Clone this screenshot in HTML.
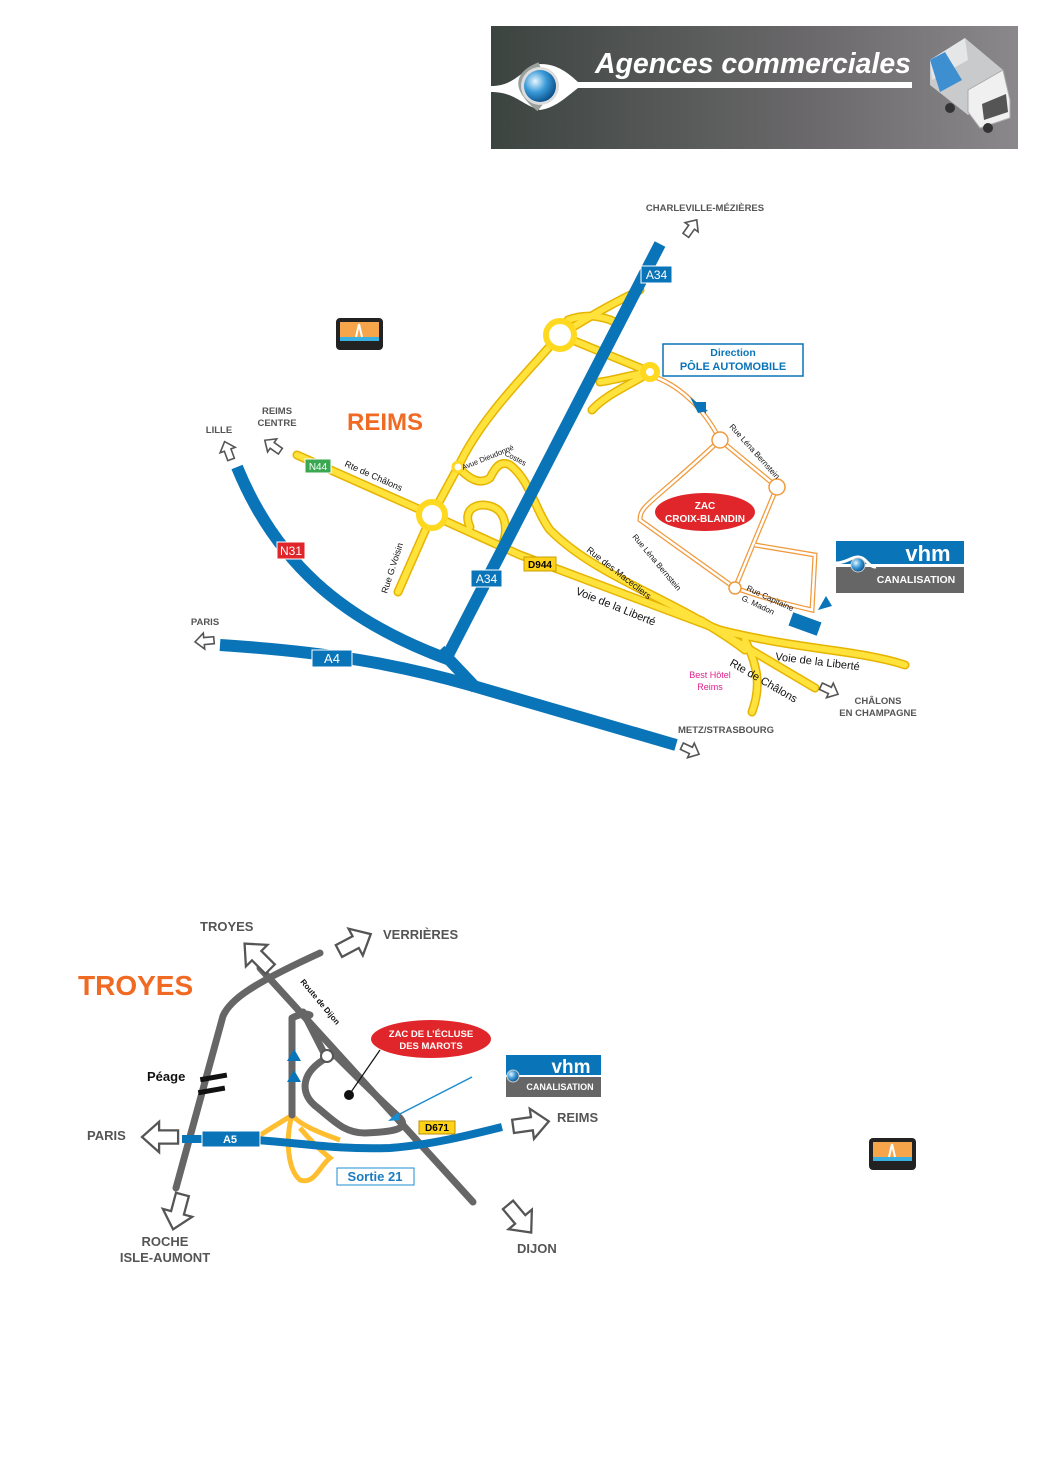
<!DOCTYPE html>
<html><head><meta charset="utf-8"><style>
html,body{margin:0;padding:0;background:#fff}
svg{display:block}
text{font-family:"Liberation Sans",Arial,sans-serif}
</style></head><body>
<svg width="1040" height="1471" viewBox="0 0 1040 1471" xmlns="http://www.w3.org/2000/svg">
<defs>
<linearGradient id="hdr" x1="0" x2="1" y1="0" y2="0">
<stop offset="0" stop-color="#3c4440"/><stop offset="0.6" stop-color="#6a686a"/><stop offset="1" stop-color="#8a888a"/></linearGradient>
<radialGradient id="ball" cx="0.35" cy="0.35" r="0.7"><stop offset="0" stop-color="#e8f6ff"/><stop offset="0.5" stop-color="#3a9ad8"/><stop offset="1" stop-color="#0a4f8a"/></radialGradient>
<polygon id="arr" points="-9,-3.5 1,-3.5 1,-8 10,0 1,8 1,3.5 -9,3.5" fill="#fff" stroke="#555" stroke-width="1.6" stroke-linejoin="miter"/>
<polygon id="arr2" points="-9,-3.5 1,-3.5 1,-8 10,0 1,8 1,3.5 -9,3.5" fill="#fff" stroke="#555" stroke-width="1.2"/>
<g id="yroads">
<path d="M297,455 L432,515 L520,555 L720,630 C800,650 860,650 905,665"/>
<path d="M700,620 L815,688"/>
<path d="M745,640 C760,670 760,690 752,712"/>
<path d="M432,515 L398,592"/>
<path d="M432,515 L458,467 C480,420 520,380 560,335"/>
<path d="M560,335 C600,310 620,300 640,290"/>
<path d="M568,320 C590,312 610,318 620,325"/>
<path d="M560,335 L650,372"/>
<path d="M650,372 C630,375 615,380 600,382"/>
<path d="M650,372 C630,385 605,395 592,410"/>
<path d="M458,467 C470,480 480,485 490,478 C495,468 500,460 510,465 C530,480 535,510 550,530 C600,580 680,600 745,650"/>
<path d="M470,527 C460,505 485,500 498,510 C510,520 505,545 500,545"/>
</g>
</defs>

<rect x="491" y="26" width="527" height="123" fill="url(#hdr)"/>
<path d="M491,86 C515,86 520,70 540,64 C555,64 565,70 578,82 L912,82 L912,88 L578,88 C565,98 555,108 540,110 C520,104 515,92 491,92 Z" fill="#fff"/>
<path d="M540,66 C525,72 518,80 525,92 C530,100 535,104 540,108" fill="none" stroke="#9aa09c" stroke-width="8"/>
<circle cx="540" cy="86" r="19" fill="#ddd"/>
<circle cx="540" cy="86" r="16" fill="url(#ball)"/>
<text x="595" y="73" font-size="29" font-style="italic" font-weight="bold" fill="#fff" font-family="'DejaVu Sans','Liberation Sans',sans-serif" textLength="316" lengthAdjust="spacingAndGlyphs">Agences commerciales</text>
<g>
<polygon points="930,60 965,38 1003,70 1003,90 968,115 930,85" fill="#c8cacc"/>
<polygon points="930,60 965,38 968,60 932,80" fill="#e4e6e8"/>
<polygon points="930,60 945,52 962,80 940,92" fill="#3e8fd0"/>
<polygon points="968,90 1003,70 1010,100 1010,118 980,128 968,112" fill="#f0f0f0" stroke="#aaa"/>
<polygon points="982,104 1006,94 1008,112 984,120" fill="#555"/>
<circle cx="950" cy="108" r="5" fill="#333"/><circle cx="988" cy="128" r="5" fill="#333"/>
</g>

<g transform="translate(336,318)">
<rect width="47" height="32" rx="4" fill="#222"/><rect x="4" y="4" width="39" height="19" fill="#f7a54a"/><rect x="4" y="19" width="39" height="4" fill="#3ab0e0"/><path d="M23,6 L20,19 M23,6 L26,19" stroke="#fff" stroke-width="2"/>
</g>
<g transform="translate(869,1138)">
<rect width="47" height="32" rx="4" fill="#222"/><rect x="4" y="4" width="39" height="19" fill="#f7a54a"/><rect x="4" y="19" width="39" height="4" fill="#3ab0e0"/><path d="M23,6 L20,19 M23,6 L26,19" stroke="#fff" stroke-width="2"/>
</g>

<g fill="none" stroke="#f09a3c" stroke-width="5">
<path d="M652,376 C680,385 705,410 720,440 L777,487 L735,588 L640,520 C640,505 650,505 720,440"/>
<path d="M735,588 C770,600 790,605 812,610 L815,555 L755,545"/>
</g>
<g fill="none" stroke="#fff" stroke-width="2.5">
<path d="M652,376 C680,385 705,410 720,440 L777,487 L735,588 L640,520 C640,505 650,505 720,440"/>
<path d="M735,588 C770,600 790,605 812,610 L815,555 L755,545"/>
</g>
<g fill="#fff" stroke="#f09a3c" stroke-width="1.5"><circle cx="720" cy="440" r="8"/><circle cx="777" cy="487" r="8"/><circle cx="735" cy="588" r="6"/></g>

<use href="#yroads" fill="none" stroke="#e6b400" stroke-width="9" stroke-linecap="round"/>
<use href="#yroads" fill="none" stroke="#ffe23c" stroke-width="6" stroke-linecap="round"/>
<g fill="#fff" stroke="#ffd820" stroke-width="6"><circle cx="432" cy="515" r="13"/><circle cx="560" cy="335" r="14"/><circle cx="650" cy="372" r="7"/></g>
<circle cx="458" cy="467" r="5" fill="#fff" stroke="#ffd820" stroke-width="3"/>

<g fill="none" stroke="#0a74b8" stroke-width="12">
<path d="M660,244 L448,655"/>
<path d="M237,467 C275,560 340,620 450,660"/>
<path d="M220,645 C330,652 400,665 470,685 L676,745"/>
<path d="M440,650 L476,688"/>
</g>
<rect x="790" y="617" width="30" height="14" transform="rotate(20 805 624)" fill="#0a74b8"/>
<polygon points="826,596 818,610 832,606" fill="#0a74b8"/>
<path d="M690,397 L708,411 L698,413 Z M696,402 L706,402 L706,414 Z" fill="#0a74b8"/>

<rect x="641" y="266" width="31" height="17" fill="#0a74b8" stroke="#fff"/><text x="656.5" y="279" font-size="12" fill="#fff" text-anchor="middle">A34</text>
<rect x="471" y="570" width="31" height="17" fill="#0a74b8" stroke="#fff"/><text x="486.5" y="583" font-size="12" fill="#fff" text-anchor="middle">A34</text>
<rect x="312" y="650" width="40" height="17" fill="#0a74b8" stroke="#fff"/><text x="332" y="663" font-size="13" fill="#fff" text-anchor="middle">A4</text>
<rect x="277" y="542" width="28" height="17" fill="#e0262a" stroke="#fff"/><text x="291" y="555" font-size="12" fill="#fff" text-anchor="middle">N31</text>
<rect x="305" y="459" width="26" height="14" fill="#3aa850" stroke="#fff"/><text x="318" y="470" font-size="10" fill="#fff" text-anchor="middle">N44</text>
<rect x="524" y="557" width="32" height="14" fill="#ffd21a" stroke="#c9a000"/><text x="540" y="568" font-size="10" font-weight="bold" fill="#000" text-anchor="middle">D944</text>

<rect x="663" y="344" width="140" height="32" fill="#fff" stroke="#0a74b8" stroke-width="1.5"/>
<text x="733" y="356" font-size="10.5" font-weight="bold" fill="#0a74b8" text-anchor="middle">Direction</text>
<text x="733" y="370" font-size="11" font-weight="bold" fill="#0a74b8" text-anchor="middle">PÔLE AUTOMOBILE</text>

<ellipse cx="705" cy="512" rx="50" ry="19" fill="#e0262a"/>
<text x="705" y="509" font-size="10" font-weight="bold" fill="#fff" text-anchor="middle">ZAC</text>
<text x="705" y="522" font-size="10" font-weight="bold" fill="#fff" text-anchor="middle">CROIX-BLANDIN</text>

<g transform="translate(836,541)">
<rect width="128" height="52" fill="#fff"/>
<rect width="128" height="23" fill="#0a74b8"/><rect y="26" width="128" height="26" fill="#666"/>
<text x="92" y="20" font-size="22" font-weight="bold" fill="#fff" text-anchor="middle">vhm</text>
<text x="80" y="42" font-size="10.5" font-weight="bold" fill="#fff" text-anchor="middle">CANALISATION</text>
<path d="M0,22 C10,22 15,16 22,16 C30,16 32,26 40,26" fill="none" stroke="#fff" stroke-width="3"/>
<circle cx="22" cy="24" r="7" fill="url(#ball)" stroke="#ccc"/>
</g>

<text x="347" y="430" font-size="24" font-weight="bold" fill="#f06a24">REIMS</text>
<g font-size="9.5" font-weight="bold" fill="#555" text-anchor="middle">
<text x="705" y="211">CHARLEVILLE-MÉZIÈRES</text>
<text x="277" y="414">REIMS</text><text x="277" y="426">CENTRE</text>
<text x="219" y="433">LILLE</text>
<text x="205" y="625">PARIS</text>
<text x="726" y="733">METZ/STRASBOURG</text>
<text x="878" y="704">CHÂLONS</text><text x="878" y="716">EN CHAMPAGNE</text>
</g>
<text x="710" y="678" font-size="9" fill="#e0208c" text-anchor="middle">Best Hôtel</text>
<text x="710" y="690" font-size="9" fill="#e0208c" text-anchor="middle">Reims</text>
<g font-size="9" fill="#111">
<text transform="translate(344,466) rotate(24)">Rte de Châlons</text>
<text transform="translate(387,594) rotate(-72)">Rue G.Voisin</text>
<text transform="translate(463,470) rotate(-22)" font-size="7.5">Avue Dieudonné</text>
<text transform="translate(504,455) rotate(28)" font-size="7.5">Costes</text>
<text transform="translate(586,551) rotate(38)">Rue des Macecliers</text>
<text transform="translate(632,537) rotate(50)" font-size="8">Rue Léna Bernstein</text>
<text transform="translate(729,427) rotate(48)" font-size="8">Rue Léna Bernstein</text>
<text transform="translate(746,590) rotate(25)" font-size="8">Rue Capitaine</text>
<text transform="translate(741,600) rotate(25)" font-size="8">G. Madon</text>
<text transform="translate(575,594) rotate(22)" font-size="11">Voie de la Liberté</text>
<text transform="translate(775,660) rotate(7)" font-size="11">Voie de la Liberté</text>
<text transform="translate(729,665) rotate(30)" font-size="11">Rte de Châlons</text>
</g>
<use href="#arr" transform="translate(228,451) rotate(-110)"/>
<use href="#arr" transform="translate(273,446) rotate(-145)"/>
<use href="#arr" transform="translate(691,228) rotate(-55)"/>
<use href="#arr" transform="translate(205,641) rotate(175)"/>
<use href="#arr" transform="translate(829,690) rotate(25)"/>
<use href="#arr" transform="translate(690,750) rotate(25)"/>

<g fill="none" stroke="#ffbe30" stroke-width="5">
<path d="M256,1138 C275,1125 285,1120 292,1115 C300,1125 320,1133 340,1140"/>
<path d="M292,1115 C285,1140 288,1170 300,1180 C315,1185 320,1165 330,1158 C320,1150 310,1140 300,1128"/>
</g>
<g fill="none" stroke="#666" stroke-width="7" stroke-linecap="round" stroke-linejoin="round">
<path d="M176,1188 L223,1016 C230,1000 250,985 320,953"/>
<path d="M260,968 L473,1202"/>
<path d="M292,1115 L292,1018 C300,1014 305,1013 310,1015"/>
<path d="M303,1012 L325,1055"/>
<path d="M323,1060 C300,1075 300,1095 318,1108 C335,1122 345,1133 365,1133 C390,1132 410,1130 400,1118 C380,1100 360,1080 335,1055 Z"/>
</g>
<circle cx="327" cy="1056" r="6" fill="#fff" stroke="#555" stroke-width="2"/>
<path d="M182,1139 L240,1139 C300,1142 330,1150 390,1148 C430,1145 470,1135 502,1127" fill="none" stroke="#0a74b8" stroke-width="8"/>
<rect x="202" y="1131" width="58" height="16" fill="#0a74b8" stroke="#fff"/>
<text x="230" y="1143" font-size="11" font-weight="bold" fill="#fff" text-anchor="middle">A5</text>
<rect x="419" y="1121" width="36" height="13" fill="#ffd21a" stroke="#b89000"/>
<text x="437" y="1131" font-size="10" font-weight="bold" fill="#000" text-anchor="middle">D671</text>
<rect x="200" y="1075" width="27" height="5" fill="#111" transform="rotate(-10 213 1077)"/>
<rect x="198" y="1088" width="27" height="5" fill="#111" transform="rotate(-10 211 1090)"/>
<polygon points="294,1049 287,1061 301,1061" fill="#0a74b8"/><polygon points="294,1070 287,1082 301,1082" fill="#0a74b8"/>
<circle cx="349" cy="1095" r="5" fill="#111"/>
<line x1="349" y1="1095" x2="380" y2="1050" stroke="#111" stroke-width="1.2"/>
<line x1="472" y1="1077" x2="392" y2="1118" stroke="#1a8cd0" stroke-width="1.5"/>
<polygon points="388,1121 398,1112 400,1120" fill="#1a8cd0"/>
<ellipse cx="431" cy="1039" rx="60" ry="19" fill="#e0262a"/>
<text x="431" y="1037" font-size="9.5" font-weight="bold" fill="#fff" text-anchor="middle">ZAC DE L’ÉCLUSE</text>
<text x="431" y="1049" font-size="9.5" font-weight="bold" fill="#fff" text-anchor="middle">DES MAROTS</text>
<g transform="translate(496,1055)">
<rect width="110" height="44" fill="#fff"/>
<rect x="10" width="95" height="20" fill="#0a74b8"/><rect x="10" y="22" width="95" height="20" fill="#666"/>
<text x="75" y="18" font-size="19" font-weight="bold" fill="#fff" text-anchor="middle">vhm</text>
<text x="64" y="35" font-size="9" font-weight="bold" fill="#fff" text-anchor="middle">CANALISATION</text>
<circle cx="17" cy="21" r="6" fill="url(#ball)" stroke="#ccc"/>
</g>
<rect x="337" y="1168" width="77" height="17" fill="#fff" stroke="#1a8cd0"/>
<text x="375" y="1181" font-size="13" font-weight="bold" fill="#1a7cc0" text-anchor="middle">Sortie 21</text>
<text x="78" y="995" font-size="28" font-weight="bold" fill="#f06a24">TROYES</text>
<g font-size="13" font-weight="bold" fill="#555">
<text x="200" y="931">TROYES</text>
<text x="383" y="939">VERRIÈRES</text>
<text x="557" y="1122">REIMS</text>
<text x="87" y="1140">PARIS</text>
<text x="517" y="1253">DIJON</text>
<text x="165" y="1246" text-anchor="middle">ROCHE</text>
<text x="165" y="1262" text-anchor="middle">ISLE-AUMONT</text>
<text x="147" y="1081" fill="#111">Péage</text>
</g>
<text transform="translate(300,982) rotate(50)" font-size="8" font-weight="bold" fill="#111">Route de Dijon</text>
<use href="#arr2" transform="translate(258,957) rotate(-135) scale(1.9)"/>
<use href="#arr2" transform="translate(354,943) rotate(-28) scale(1.9)"/>
<use href="#arr2" transform="translate(161,1137) rotate(180) scale(1.9)"/>
<use href="#arr2" transform="translate(530,1124) rotate(-8) scale(1.9)"/>
<use href="#arr2" transform="translate(178,1211) rotate(105) scale(1.9)"/>
<use href="#arr2" transform="translate(519,1218) rotate(50) scale(1.9)"/>
</svg>
</body></html>
